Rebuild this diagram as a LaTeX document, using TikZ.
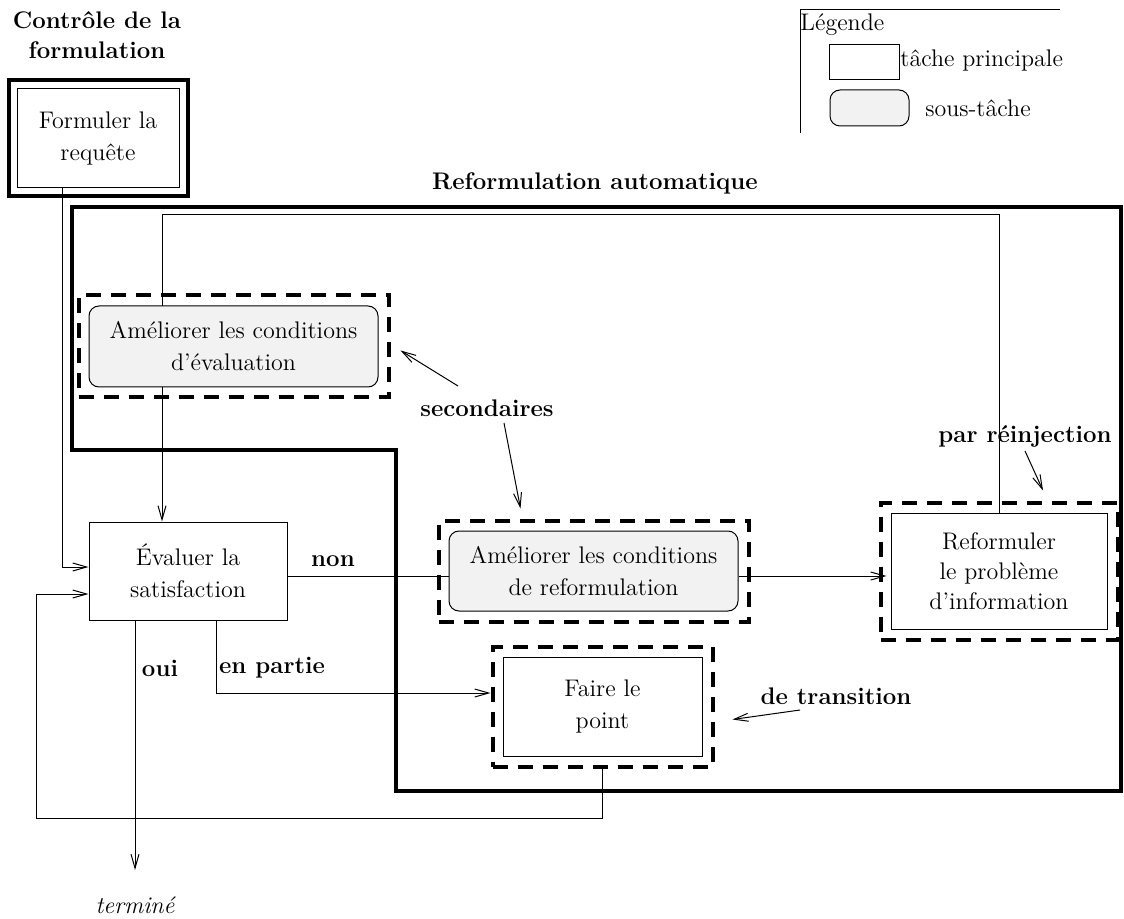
\documentclass[tikz,border=0pt]{standalone}
\usepackage{fontspec}
\usetikzlibrary{arrows.meta,calc,fit}
\pgfdeclarelayer{bg}
\pgfsetlayers{bg,main}
\definecolor{subfill}{HTML}{F2F2F2}
\begin{document}
\begin{tikzpicture}[x=0.5pt,y=-0.5pt,
  every node/.style={font=\fontsize{12}{16}\selectfont},
  task/.style={draw, line width=0.5pt, align=center, inner sep=0pt},
  subtask/.style={task, fill=subfill, rounded corners=5pt},
  dashframe/.style={draw, line width=2pt, dash pattern=on 7.5pt off 5pt, inner sep=5pt},
  conn/.style={line width=0.5pt},
  arr/.style={conn, -{Straight Barb[length=7pt,width=4pt]}},
  lbl/.style={font=\fontsize{12}{15}\selectfont\bfseries}
]
\useasboundingbox (0,0) rectangle (1124,919);

% --- tasks -------------------------------------------------------------
\node[task, minimum width=81pt, minimum height=49.5pt] (fo) at (98,138.5) {Formuler la\\requête};
\node[draw, line width=2pt, fit=(fo), inner sep=4pt] (foF) {};

\node[subtask, minimum width=144.5pt, minimum height=40.5pt] (ae) at (233.5,346.5) {Améliorer les conditions\\d'évaluation};
\node[dashframe, fit=(ae)] (aeD) {};

\node[subtask, minimum width=144.5pt, minimum height=40pt] (ar) at (593.5,571) {Améliorer les conditions\\de reformulation};
\node[dashframe, fit=(ar)] (arD) {};

\node[task, minimum width=108pt, minimum height=58pt, font=\fontsize{12}{15}\selectfont] (re) at (999,571) {Reformuler\\le problème\\d'information};
\node[dashframe, fit=(re)] (reD) {};

\node[task, minimum width=99.5pt, minimum height=49.5pt] (fp) at (602.5,706.5) {Faire le\\point};
\node[dashframe, fit=(fp)] (fpD) {};

\node[task, minimum width=99pt, minimum height=49pt] (ev) at (188,571) {Évaluer la\\satisfaction};

% --- automatic reformulation frame ----------------------------------------
\draw[line width=2pt] (72,207) -- (1121,207) -- (1121,791) -- (396,791) -- (396,450) -- (72,450) -- cycle;

% --- titles and labels -----------------------------------------------------
\node[lbl, align=center] (ctl) at (97,35) {Contrôle de la\\formulation};
\node[lbl] (ra) at (595,183) {Reformulation automatique};
\node[lbl] (non) at (333,561) {non};
\node[lbl] (oui) at (160,668) {oui};
\node[lbl] (enp) at (272,668) {en partie};
\node[lbl] (sec) at (487,408) {secondaires};
\node[lbl] (pr) at (1025,436) {par réinjection};
\node[lbl] (dt) at (836,696) {de transition};
\node[font=\fontsize{12}{15}\selectfont\itshape] (tm) at (135,905) {terminé};

% --- bend points -----------------------------------------------------------
\coordinate (foLane) at (62,567);
\coordinate (loopC) at (36,818);
\coordinate (ret) at (0,594);
\coordinate (ouiEnd) at (135,870);
\coordinate (epC) at (216,693);
\coordinate (nonY) at (0,576);
\coordinate (topC) at (162,215);

% --- connectors ------------------------------------------------------------
\begin{pgfonlayer}{bg}
\draw[arr] (fo.south -| foLane) |- (ev.west |- foLane);
\draw[arr] (fpD.south) |- (loopC) |- (ev.west |- ret);
\draw[arr] (ev.south -| ouiEnd) -- (ouiEnd);
\draw[arr] (ev.south -| epC) |- (fpD.west |- epC);
\draw[conn] (ev.east |- nonY) -- (ar.west |- nonY);
\draw[arr, shorten >=2pt] (ar.east |- nonY) -- (re.west |- nonY);
\draw[arr] (re.north) |- (topC) -- (ev.north -| topC);
\end{pgfonlayer}

\draw[arr] ($(sec)+(-29,-22)$) -- ($(aeD.east)+(10,4)$);
\draw[arr] ($(sec)+(17,15)$) -- ($(arD.north)+(-73,-10)$);
\draw[arr] ($(pr)+(0,15)$) -- ($(reD.north)+(44,-10)$);
\draw[arr] ($(dt)+(-36,14)$) -- ($(fpD.east)+(18,13)$);

% --- legend ----------------------------------------------------------------
\draw[conn] (1060,10) -- (800,10) -- (800,133);
\node[anchor=west, inner sep=0pt] (lgT) at (800,25) {Légende};
\node[task, minimum width=35pt, minimum height=17.5pt] (lgA) at (864,62.5) {};
\node[anchor=west, inner sep=0pt] (lgAt) at (900,61) {tâche principale};
\node[subtask, minimum width=39.5pt, minimum height=18pt] (lgB) at (869.5,108) {};
\node (lgBt) at (978,108) {sous-tâche};
\end{tikzpicture}
\end{document}
